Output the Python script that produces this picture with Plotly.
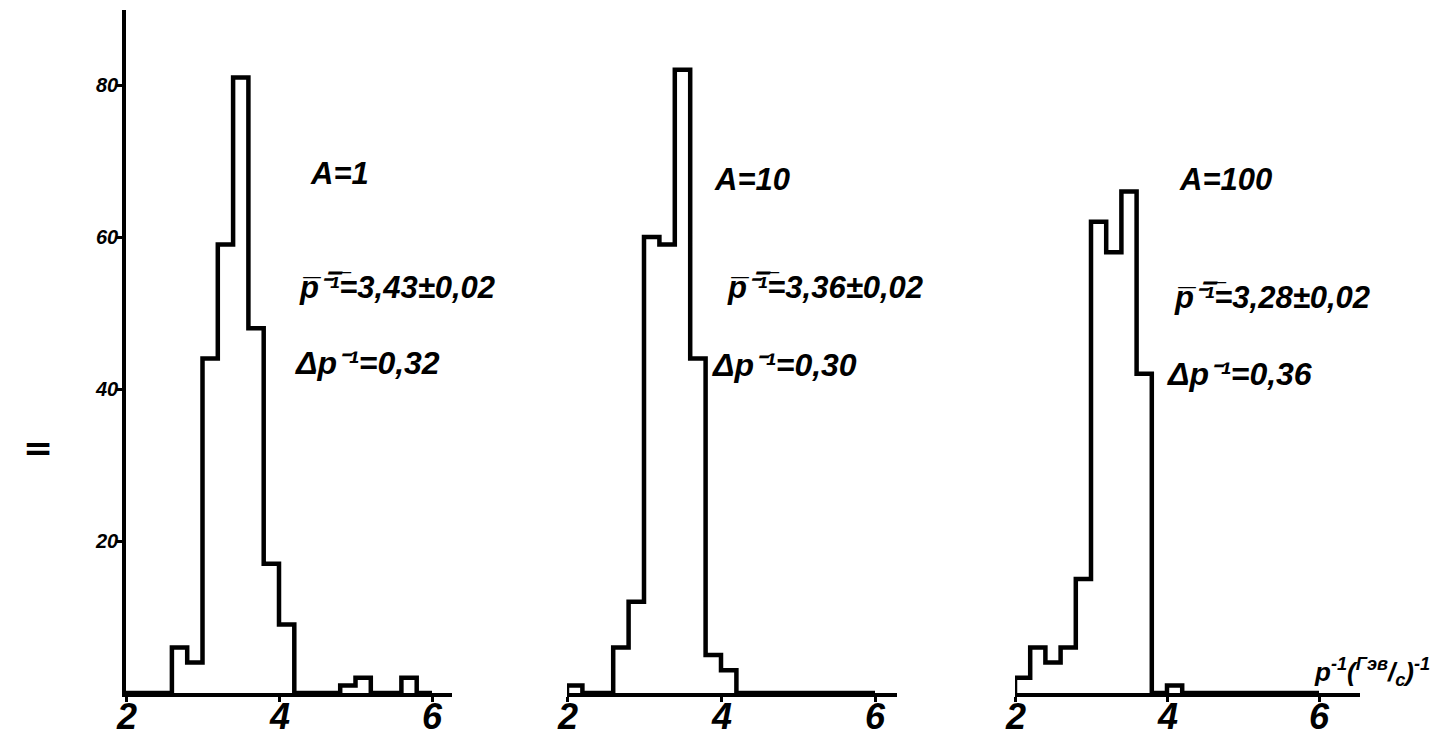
import plotly.graph_objects as go

# ---- data ----
bin_edges = [2.0, 2.2, 2.4, 2.6, 2.8, 3.0, 3.2, 3.4, 3.6, 3.8, 4.0,
             4.2, 4.4, 4.6, 4.8, 5.0, 5.2, 5.4, 5.6, 5.8, 6.0]
counts_A1 = [0, 0, 0, 6, 4, 44, 59, 81, 48, 17, 9,
             0, 0, 0, 1, 2, 0, 0, 2, 0]
counts_A10 = [1, 0, 0, 6, 12, 60, 59, 82, 44, 5, 3,
              0, 0, 0, 0, 0, 0, 0, 0, 0]
counts_A100 = [2, 6, 4, 6, 15, 62, 58, 66, 42, 0, 1,
               0, 0, 0, 0, 0, 0, 0, 0, 0]
panel_labels = ["A=1", "A=10", "A=100"]
mean_labels = ["3,43±0,02", "3,36±0,02", "3,28±0,02"]
width_labels = ["0,32", "0,30", "0,36"]
x_ticks = [2, 4, 6]
x_ticktext = ["2", "4", "6"]
y_ticks = [20, 40, 60, 80]
y_ticktext = ["20", "40", "60", "80"]

# page body has an 8px margin: the figure is drawn at (8, 8)
OFF = 8
W, H = 1440 - OFF, 744 - OFF


def px(x_pix):
    return (x_pix - OFF) / W


def py(y_pix):
    return (H - (y_pix - OFF)) / H


FONT = "Liberation Sans, Arial, sans-serif"
BASE_PX = 693
TOP_PX = 10
PX_PER_UNIT = 7.6
y_max = (BASE_PX - TOP_PX) / PX_PER_UNIT
y_dom = [py(BASE_PX), py(TOP_PX)]

# panel pixel extents (left = value 2, right end of axis line) and px per x unit
panels = [(126, 452, 76.5), (567, 897, 77.0), (1015, 1360, 76.0)]
all_counts = [counts_A1, counts_A10, counts_A100]

fig = go.Figure()
for i, (counts, (lpx, rpx, ppu)) in enumerate(zip(all_counts, panels)):
    sfx = "" if i == 0 else str(i + 1)
    xs = [bin_edges[0]] + bin_edges
    ys = [0] + counts + [0]
    fig.add_trace(go.Scatter(
        x=xs, y=ys, mode="lines", line=dict(shape="hv", color="black", width=4.5),
        xaxis="x" + sfx, yaxis="y" + sfx, showlegend=False, hoverinfo="skip"))
    x_range = [2, 2 + (rpx - lpx) / ppu]
    yax = dict(domain=y_dom, range=[0, y_max], anchor="x" + sfx, automargin=False,
               showgrid=False, zeroline=False)
    if i == 0:
        yax.update(showline=True, linecolor="black", linewidth=4,
                   ticks="outside", ticklen=6, tickwidth=2.5, tickcolor="black",
                   tickvals=y_ticks, showticklabels=False)
    else:
        yax.update(visible=False)
    fig.update_layout(**{
        "xaxis" + sfx: dict(
            domain=[px(lpx), px(rpx)], range=x_range, anchor="y" + sfx, automargin=False,
            showline=True, linecolor="black", linewidth=4,
            ticks="outside", ticklen=5, tickwidth=3, tickcolor="black",
            tickvals=x_ticks, showticklabels=False, showgrid=False, zeroline=False,
        ),
        "yaxis" + sfx: yax,
    })
    # x tick labels, placed at the tick values of this panel
    for tv, tt in zip(x_ticks, x_ticktext):
        fig.add_annotation(x=tv, xref="x" + sfx, y=py(716), yref="paper",
                           xanchor="center", yanchor="middle",
                           text=tt, showarrow=False,
                           font=dict(family=FONT, size=36, color="black",
                                     weight="bold", style="italic"))

# y tick labels of the first panel, right next to the ticks
for tv, tt in zip(y_ticks, y_ticktext):
    fig.add_annotation(x=px(120), xref="paper", y=tv, yref="y",
                       xanchor="right", yanchor="middle", text=tt, showarrow=False,
                       font=dict(family=FONT, size=20, color="black",
                                 weight="bold", style="italic"))

# text annotations (data coordinates of each panel; left edge anchored)
ann_font = dict(family=FONT, size=31, color="black", weight="bold", style="italic")
a_pos = [(4.38, 68.4), (3.88, 67.6), (4.13, 67.6)]
m_pos = [(4.23, 53.3), (4.05, 53.3), (4.07, 52.0)]
w_pos = [(4.18, 43.4), (3.86, 43.2), (3.97, 42.0)]
for i in range(3):
    sfx = "" if i == 0 else str(i + 1)
    fig.add_annotation(x=a_pos[i][0], y=a_pos[i][1], xref="x" + sfx, yref="y" + sfx,
                       xanchor="left", yanchor="middle",
                       text=panel_labels[i], showarrow=False, font=ann_font)
    fig.add_annotation(x=m_pos[i][0], y=m_pos[i][1], xref="x" + sfx, yref="y" + sfx,
                       xanchor="left", yanchor="middle",
                       text="p\u0305\u207b\u0305\u00b9\u0305=" + mean_labels[i],
                       showarrow=False, font=ann_font)
    fig.add_annotation(x=w_pos[i][0], y=w_pos[i][1], xref="x" + sfx, yref="y" + sfx,
                       xanchor="left", yanchor="middle",
                       text="\u0394p\u207b\u00b9=" + width_labels[i],
                       showarrow=False, font=dict(ann_font, size=32))

# axis unit label of the third panel
fig.add_annotation(x=px(1312), y=py(672), xref="paper", yref="paper",
                   xanchor="left", yanchor="middle",
                   text="p<sup>-1</sup>(<sup>Гэв</sup>/<sub>с</sub>)<sup>-1</sup>",
                   showarrow=False,
                   font=dict(family=FONT, size=26, color="black", weight="bold", style="italic"))
# stray '=' mark at far left
fig.add_annotation(x=px(38), y=py(447), xref="paper", yref="paper",
                   xanchor="center", yanchor="middle",
                   text="=", showarrow=False,
                   font=dict(family="DejaVu Sans", size=36, color="black", weight="bold"))

fig.update_layout(width=W, height=H, margin=dict(l=0, r=0, t=0, b=0),
                  paper_bgcolor="white", plot_bgcolor="white", showlegend=False)
fig.write_html("out.html")
